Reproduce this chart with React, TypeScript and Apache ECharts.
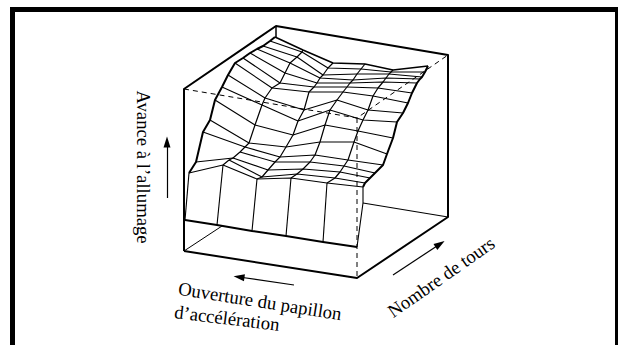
import React, { useEffect, useRef } from "react";
import * as echarts from "echarts";

type P = [number, number];

const WIDTH = 618;
const HEIGHT = 345;

// Surface columns (throttle opening), each from front row to back row
const column0: (P | null)[] = [[189,173],null,[196,162],null,[203,132],[210,120],[215,100],[222,87],[228,75],[235,63],[243,58],[250,53],[257,49],[263,46],[270,41],[275,37]];
const column1: P[] = [[223,165],[229,160],[233,158],[240,152],[245,147],[249,143],[255,125],[262,105],[265,98],[272,88],[280,83],[285,73],[290,63],[297,57],[302,52],[303,50]];
const column2: P[] = [[257,179],[262,177],[268,170],[275,162],[280,157],[286,147],[293,135],[298,121],[304,110],[309,92],[314,87],[317,83],[320,78],[323,75],[328,68],[333,63]];
const column3: P[] = [[291,178],[297,174],[303,169],[310,162],[315,155],[320,142],[325,125],[330,110],[337,100],[343,92],[347,87],[350,83],[353,80],[357,74],[361,69],[365,64]];
const column4: P[] = [[327,183],[335,178],[340,172],[344,166],[348,160],[354,142],[358,131],[363,120],[368,110],[373,96],[378,88],[383,82],[386,78],[389,74],[391,72],[393,70]];
const column5: P[] = [[363,187],[365,183],[370,178],[375,173],[383,165],[387,154],[393,138],[397,122],[403,113],[408,103],[412,93],[417,83],[420,79],[422,77],[425,72],[428,66]];
const columns = [column0, column1, column2, column3, column4, column5];

// Curtain under the front row
const baseFront: P[] = [[185,220],[217,225],[252,231],[286,236],[323,242],[357,247]];
const curtainRight: P[] = [[363,187],[363,203],[357,247]];

// Box edges
const boxOuter: P[] = [[184,251],[184,89],[276,26],[448,55],[448,217],[357,278],[184,251]];
const boxHiddenTop: P[] = [[184,89],[357,118],[448,55]];
const boxHiddenVertical: P[] = [[357,118],[357,278]];
const floorLeft: P[] = [[184,251],[222,226]];
const floorRight: P[] = [[363,203],[448,217]];
const backStub: P[] = [[276,26],[276,37]];

// Arrows
const arrowUp: P[] = [[167,198],[167,142]];
const arrowLeft: P[] = [[294,285],[239,277]];
const arrowRight: P[] = [[393,275],[440,244]];

const labelAdvance = "Avance à l’allumage";
const labelOpening1 = "Ouverture du papillon";
const labelOpening2 = "d’accélération";
const labelSpeed = "Nombre de tours";

const FONT = '"Liberation Serif", serif';

const line = (data: P[], width: number, dashed = false, z = 2) => ({
  type: "line",
  data,
  showSymbol: false,
  symbol: "none",
  silent: true,
  z,
  lineStyle: { color: "#000", width, type: dashed ? [5, 4] : "solid", cap: "butt", join: "round" },
});

const arrow = (pts: P[]) => ({
  type: "line",
  data: [],
  silent: true,
  markLine: {
    silent: true,
    animation: false,
    symbol: ["none", "triangle"],
    symbolSize: [7, 11],
    label: { show: false },
    lineStyle: { color: "#000", width: 1.2, type: "solid" },
    data: [[{ coord: pts[0] }, { coord: pts[1] }]],
  },
});

const text = (content: string, x: number, y: number, degrees: number) => ({
  type: "text",
  x,
  y,
  rotation: (degrees * Math.PI) / 180,
  style: {
    text: content,
    fill: "#000",
    font: `18.7px ${FONT}`,
    align: "center",
    verticalAlign: "middle",
  },
});

export default function App() {
  const ref = useRef<HTMLDivElement>(null);
  useEffect(() => {
    const chart = echarts.init(ref.current!, undefined, { renderer: "svg" });
    const ribs: P[][] = [];
    const rowCount = column1.length;
    for (let r = 0; r < rowCount; r++) {
      const rib: P[] = [];
      columns.forEach((c) => {
        const p = c[r];
        if (p) rib.push(p);
      });
      ribs.push(rib);
    }
    const columnLines = columns.map((c) => c.filter(Boolean) as P[]);
    const series: any[] = [
      line(boxHiddenTop, 1, true),
      line(boxHiddenVertical, 1, true),
      ...ribs.map((rib, i) => line(rib, i === rowCount - 1 ? 1.6 : 1.1)),
      ...columnLines.map((c, i) => line(c, i === 0 || i === 5 ? 2 : 1.2)),
      ...baseFront.slice(0, 5).map((b, i) => line([b, columnLines[i][0] as P], 1.1)),
      line(curtainRight, 1.1),
      line(baseFront, 2),
      line(boxOuter, 2),
      line(floorLeft, 1),
      line(floorRight, 1.1),
      line(backStub, 1.5),
      arrow(arrowUp),
      arrow(arrowLeft),
      arrow(arrowRight),
    ];
    chart.setOption({
      animation: false,
      backgroundColor: "#fff",
      grid: { left: 0, right: 0, top: 0, bottom: 0 },
      xAxis: { type: "value", min: 0, max: WIDTH, show: false },
      yAxis: { type: "value", min: 0, max: HEIGHT, inverse: true, show: false },
      series,
      graphic: [
        { type: "rect", shape: { x: 10, y: 7, width: 5, height: 338 }, style: { fill: "#000" } },
        { type: "rect", shape: { x: 10, y: 7, width: 607, height: 5 }, style: { fill: "#000" } },
        { type: "rect", shape: { x: 615, y: 7, width: 3, height: 338 }, style: { fill: "#000" } },
        text(labelAdvance, 143, 167, -90),
        text(labelOpening1, 260, 301, -9),
        text(labelOpening2, 227, 318, -7),
        text(labelSpeed, 441, 277, 35),
      ],
    });
    return () => chart.dispose();
  }, []);
  return <div ref={ref} style={{ position: "fixed", left: 0, top: 0, width: WIDTH, height: HEIGHT }} />;
}
